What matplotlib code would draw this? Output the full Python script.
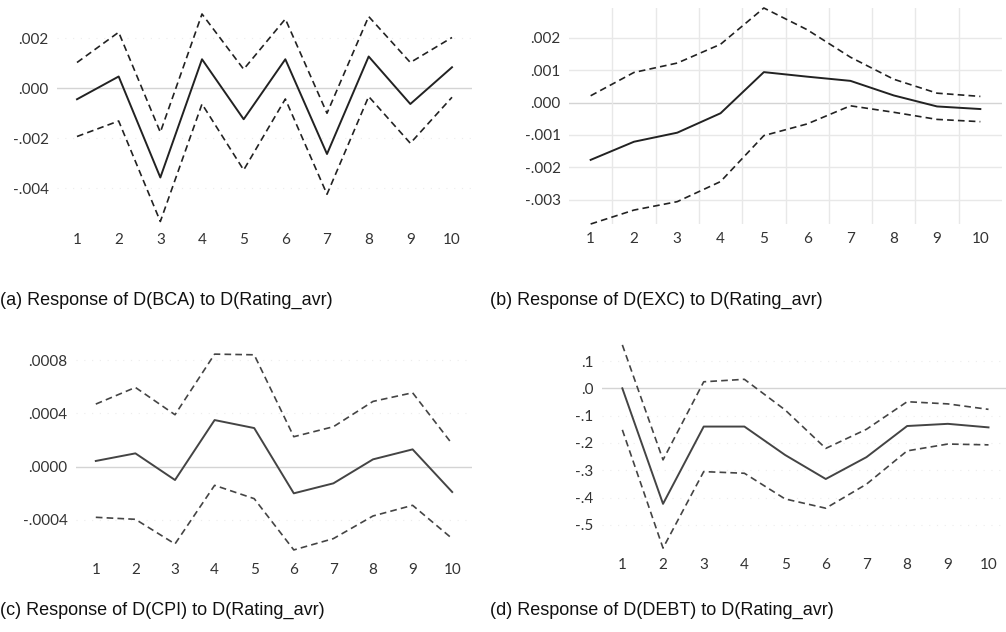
import matplotlib
matplotlib.use("Agg")
import matplotlib.pyplot as plt
from matplotlib.ticker import FuncFormatter

# periods
steps = list(range(1, 11))

# (a) D(BCA)
bca_resp = [-0.00044, 0.00047, -0.00357, 0.00116, -0.00124, 0.00116, -0.00263, 0.00127, -0.00063, 0.00084]
bca_up = [0.00103, 0.00224, -0.00176, 0.00297, 0.00076, 0.00277, -0.00100, 0.00287, 0.00103, 0.00203]
bca_lo = [-0.00193, -0.00131, -0.00533, -0.00063, -0.00327, -0.00043, -0.00424, -0.00033, -0.00220, -0.00036]

# (b) D(EXC)
exc_resp = [-0.00177, -0.00121, -0.00093, -0.00033, 0.00094, 0.00080, 0.00067, 0.00022, -0.00012, -0.00020]
exc_up = [0.00021, 0.00093, 0.00122, 0.00180, 0.00292, 0.00225, 0.00140, 0.00072, 0.00029, 0.00019]
exc_lo = [-0.00375, -0.00332, -0.00306, -0.00244, -0.00102, -0.00066, -0.00010, -0.00030, -0.00052, -0.00059]

# (c) D(CPI)
cpi_resp = [0.000043, 0.00010, -0.00010, 0.00035, 0.00029, -0.00020, -0.000125, 0.000055, 0.00013, -0.00019]
cpi_up = [0.00047, 0.000595, 0.00039, 0.000845, 0.00084, 0.000225, 0.00030, 0.00049, 0.000555, 0.00017]
cpi_lo = [-0.00038, -0.000395, -0.00058, -0.00014, -0.00024, -0.000625, -0.00054, -0.00037, -0.00029, -0.00054]

# (d) D(DEBT)
debt_resp = [0.0, -0.423, -0.140, -0.140, -0.244, -0.332, -0.252, -0.138, -0.130, -0.143]
debt_up = [0.159, -0.262, 0.024, 0.033, -0.079, -0.220, -0.150, -0.049, -0.057, -0.077]
debt_lo = [-0.152, -0.585, -0.305, -0.311, -0.405, -0.439, -0.351, -0.229, -0.204, -0.207]

captions = ["(a) Response of D(BCA) to D(Rating_avr)",
            "(b) Response of D(EXC) to D(Rating_avr)",
            "(c) Response of D(CPI) to D(Rating_avr)",
            "(d) Response of D(DEBT) to D(Rating_avr)"]

W, H = 1006, 632
fig = plt.figure(figsize=(W / 100, H / 100), dpi=100)


def rect(l, t, r, b):
    return [l / W, 1 - b / H, (r - l) / W, (b - t) / H]


def fmt(decimals):
    def f(v, pos):
        s = f"{v:.{decimals}f}"
        s = s.replace("0.", ".", 1)
        if s.startswith("-") and abs(v) < 1e-12:
            s = s[1:]
        return s
    return FuncFormatter(f)


def panel(box, resp, up, lo, yticks, ylim, xlim, decimals, color, boxgrid=False):
    ax = fig.add_axes(rect(*box))
    ax.plot(steps, up, color=color, lw=1.2, ls=(0, (4, 2.5)), clip_on=False)
    ax.plot(steps, lo, color=color, lw=1.2, ls=(0, (4, 2.5)), clip_on=False)
    ax.plot(steps, resp, color=color, lw=1.4, clip_on=False)
    ax.axhline(0, color="#d4d4d4", lw=1.0, zorder=0)
    ax.set_xlim(*xlim)
    ax.set_ylim(*ylim)
    ax.set_xticks(steps)
    ax.set_yticks(yticks)
    ax.yaxis.set_major_formatter(fmt(decimals))
    if boxgrid:
        for y in yticks:
            if y != 0:
                ax.axhline(y, color="#e8e8e8", lw=1.0, zorder=0)
        for x in [s + 0.5 for s in steps[:-1]]:
            ax.axvline(x, color="#e8e8e8", lw=1.0, zorder=0)
    else:
        for y in yticks:
            if y != 0:
                ax.axhline(y, color="#ececec", lw=0.8, ls=(0, (1, 6)), zorder=0)
    for s in ax.spines.values():
        s.set_visible(False)
    ax.tick_params(length=0, labelsize=11, labelcolor="#333333", pad=6)
    for lab in ax.get_xticklabels() + ax.get_yticklabels():
        lab.set_fontfamily("Lato")
    return ax


panel((57, 10, 472, 225), bca_resp, bca_up, bca_lo,
      [-0.004, -0.002, 0.0, 0.002], (-0.00547, 0.00313), (0.52, 10.48), 3, "#222222")
panel((569, 8, 1002, 224), exc_resp, exc_up, exc_lo,
      [-0.003, -0.002, -0.001, 0.0, 0.001, 0.002], (-0.00375, 0.00292), (0.5, 10.5), 3, "#222222",
      boxgrid=True)
panel((76, 350, 472, 555), cpi_resp, cpi_up, cpi_lo,
      [-0.0004, 0.0, 0.0004, 0.0008], (-0.000663, 0.000876), (0.5, 10.5), 4, "#444444")
panel((602, 343, 1006, 550), debt_resp, debt_up, debt_lo,
      [-0.5, -0.4, -0.3, -0.2, -0.1, 0.0, 0.1], (-0.592, 0.166), (0.5, 10.43), 1, "#444444")

cap_pos = [(0, 300), (490, 300), (0, 610), (490, 610)]
for (x, y), c in zip(cap_pos, captions):
    fig.text(x / W, 1 - y / H, c, ha="left", va="center",
             fontsize=13, family="Liberation Sans", color="#111111")

fig.savefig("out.png", dpi=100)
